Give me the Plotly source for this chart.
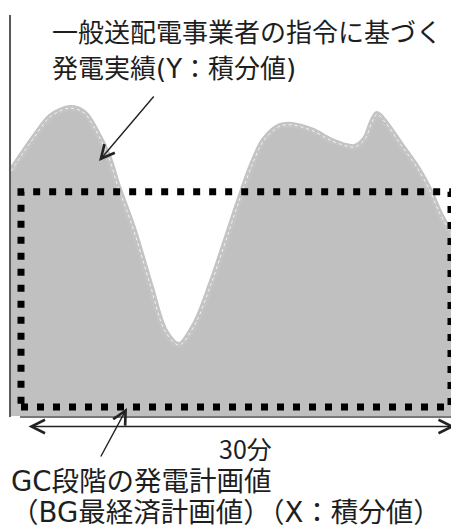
import plotly.graph_objects as go

# ---- data (schematic values, x in minutes, y in arbitrary output units) ----
minutes = [-0.698, 0.977, 2.093, 3.419, 4.395, 5.163, 6.140, 6.698, 7.395, 7.953,
           9.000, 10.047, 11.023, 12.140, 13.256, 14.442, 15.209, 16.116, 16.953,
           18.070, 18.907, 20.372, 21.558, 22.744, 23.302, 24.000, 24.488, 24.837,
           25.395, 26.512, 27.698, 28.535, 29.233, 30.279]
actual_output = [61.1, 69.8, 74.8, 76.8, 75.6, 71.6, 64.3, 57.9, 51.1, 45.4,
                 32.9, 21.2, 17.7, 22.9, 32.9, 45.4, 53.6, 62.6, 68.8,
                 72.3, 72.6, 71.1, 68.8, 67.3, 67.1, 69.1, 73.3, 75.3,
                 73.3, 67.6, 61.6, 56.1, 50.4, 43.9]
plan_value = 55.9
plan_start = 0
plan_end = 30

label_actual = ["一般送配電事業者の指令に基づく", "発電実績(Y：積分値)"]
label_period = "30分"
label_plan = ["GC段階の発電計画値", "（BG最経済計画値）（X：積分値）"]

FONT = "DejaVu Sans, Noto Sans CJK JP"
FONT_CJK = "Noto Sans CJK JP"
TXT = "#1e1e1e"

fig = go.Figure()

# actual output area (gray fill with lighter rim)
fig.add_trace(go.Scatter(
    x=minutes, y=actual_output, mode="lines", fill="tozeroy",
    fillcolor="#C0C0C0", line=dict(color="#C4C4C4", width=6, shape="spline", smoothing=0.9),
    hoverinfo="skip", showlegend=False))
# white dashed inner line
fig.add_trace(go.Scatter(
    x=minutes, y=actual_output, mode="lines",
    line=dict(color="#F4F4F4", width=1, dash="3px,3px", shape="spline", smoothing=0.9),
    hoverinfo="skip", showlegend=False))

shapes = []
# plan value rectangle (dotted)
shapes.append(dict(type="rect", xref="x", yref="y",
                   x0=plan_start, x1=plan_end, y0=2.24, y1=plan_value,
                   line=dict(color="black", width=7, dash="7px,9px"),
                   fillcolor="rgba(0,0,0,0)", layer="above"))
# axis lines
shapes.append(dict(type="line", xref="x", yref="y", x0=-0.767, x1=-0.767, y0=-0.25, y1=100,
                   line=dict(color="#595959", width=2)))
shapes.append(dict(type="line", xref="x", yref="y", x0=-0.07, x1=30.6, y0=-0.25, y1=-0.25,
                   line=dict(color="#4a4a4a", width=1.5)))

annotations = []
# 30-minute double arrow
annotations.append(dict(x=30.279, y=-2.62, ax=0.419, ay=-2.62, xref="x", yref="y",
                        axref="x", ayref="y", text="", showarrow=True,
                        arrowhead=5, startarrowhead=5, arrowside="end+start",
                        arrowwidth=1.4, arrowsize=1.9, startarrowsize=1.9, arrowcolor="#222"))
# pointer to actual curve
annotations.append(dict(x=5.442, y=63.6, ax=9.349, ay=80.05, xref="x", yref="y",
                        axref="x", ayref="y", text="", showarrow=True,
                        arrowhead=5, arrowwidth=1.4, arrowsize=1.9, arrowcolor="#222"))
# pointer to plan rectangle
annotations.append(dict(x=7.395, y=2.0, ax=5.512, ay=-10.47, xref="x", yref="y",
                        axref="x", ayref="y", text="", showarrow=True,
                        arrowhead=5, arrowwidth=1.4, arrowsize=1.9, arrowcolor="#222"))

# texts
annotations.append(dict(x=2.023, y=95.4, xref="x", yref="y", text=label_actual[0],
                        showarrow=False, xanchor="left", yanchor="middle",
                        font=dict(family=FONT, size=26, color=TXT)))
annotations.append(dict(x=2.023, y=86.66, xref="x", yref="y", text=label_actual[1],
                        showarrow=False, xanchor="left", yanchor="middle",
                        font=dict(family=FONT, size=26, color=TXT)))
annotations.append(dict(x=15.63, y=-8.1, xref="x", yref="y", text=label_period,
                        showarrow=False, xanchor="center", yanchor="middle",
                        font=dict(family=FONT_CJK, size=25, color=TXT)))
annotations.append(dict(x=-0.837, y=-16.1, xref="x", yref="y", text=label_plan[0],
                        showarrow=False, xanchor="left", yanchor="middle",
                        font=dict(family=FONT, size=27.5, color=TXT)))
annotations.append(dict(x=-0.837, y=-24.0, xref="x", yref="y", text=label_plan[1],
                        showarrow=False, xanchor="left", yanchor="middle",
                        font=dict(family=FONT, size=27.5, color=TXT)))

# the page body adds an 8px margin, so the figure is 8px smaller and the
# axis ranges start 8px into the window
fig.update_layout(
    width=451, height=522,
    margin=dict(l=0, r=0, t=0, b=0),
    paper_bgcolor="white", plot_bgcolor="white",
    xaxis=dict(range=[-0.907, 30.558], visible=False, fixedrange=True),
    yaxis=dict(range=[-28.43, 101.75], visible=False, fixedrange=True),
    shapes=shapes, annotations=annotations, showlegend=False,
)

fig.write_html("out.html")
